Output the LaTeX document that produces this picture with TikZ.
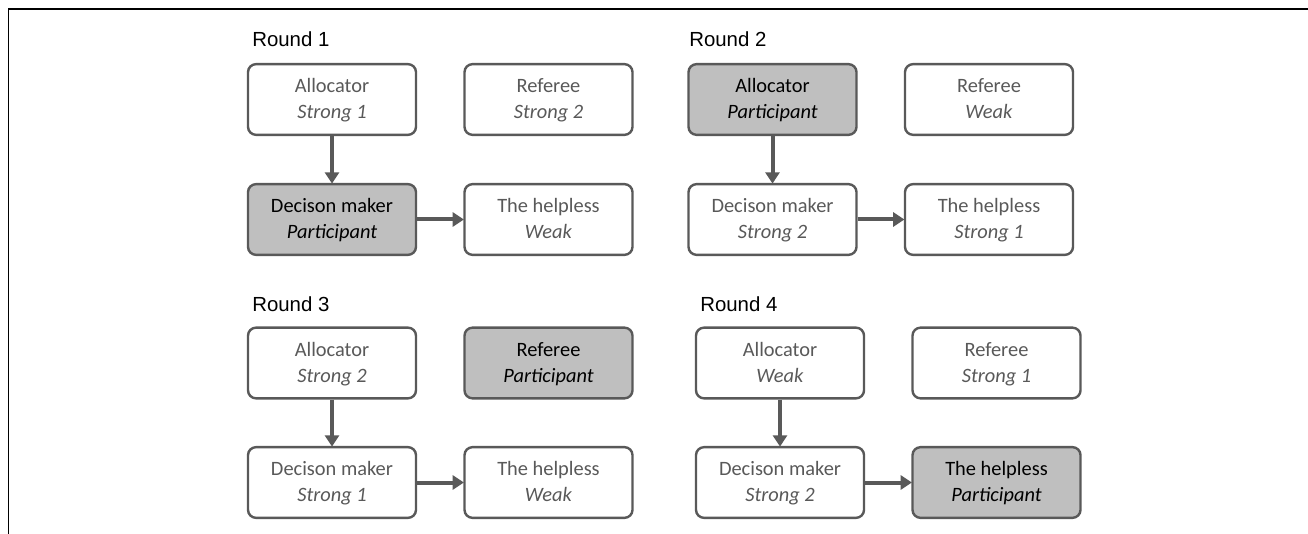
\documentclass[tikz,border=0pt]{standalone}
\usepackage{fontspec}
\setmainfont{Carlito}
\newfontfamily\arialf{Liberation Sans}
\usetikzlibrary{arrows.meta}
\definecolor{edgegray}{HTML}{595959}
\definecolor{txtgray}{HTML}{595959}
\definecolor{fillgray}{HTML}{BFBFBF}
\newcommand{\rolestrut}{\rule[-4.9pt]{0pt}{19.5pt}}
\newcommand{\rolelines}[2]{\rolestrut #1\\\rolestrut\textit{#2}}
\tikzset{
  rolebox/.style={draw=edgegray, line width=1.8pt, rounded corners=6pt, fill=white,
    minimum width=126pt, minimum height=53pt, inner sep=0pt, align=center,
    text=txtgray, font=\fontsize{15.3}{19.5}\selectfont},
  partbox/.style={rolebox, fill=fillgray, text=black},
  roundlabel/.style={anchor=base west, inner sep=0pt, font=\arialf\fontsize{15.3}{18}\selectfont, text=black},
  flow/.style={draw=edgegray, line width=3pt, -{Triangle[width=10.5pt,length=8.5pt]}, shorten >=-0.5pt},
  frameline/.style={draw=black, line width=1.1pt}
}
\begin{document}
\begin{tikzpicture}[x=0.75pt,y=-0.75pt]
\useasboundingbox (0,0) rectangle (1308,534);
\coordinate (fb) at (8.5,540);
\coordinate (fc) at (8.5,9);
\coordinate (fr) at (1315,9);
\draw[frameline] (fb) -- (fc) -- (fr);

% Round 1
\node[roundlabel] (r1) at (252,47) {Round 1};
\node[rolebox] (a1) at (332,99.5) {\rolelines{Allocator}{Strong 1}};
\node[rolebox] (f1) at (548.5,99.5) {\rolelines{Referee}{Strong 2}};
\node[partbox] (d1) at (332,219.5) {\rolelines{Decison maker}{Participant}};
\node[rolebox] (h1) at (548.5,219.5) {\rolelines{The helpless}{Weak}};
\draw[flow] (a1) -- (d1);
\draw[flow] (d1) -- (h1);

% Round 2
\node[roundlabel] (r2) at (689,47) {Round 2};
\node[partbox] (a2) at (772.5,99.5) {\rolelines{Allocator}{Participant}};
\node[rolebox] (f2) at (989,99.5) {\rolelines{Referee}{Weak}};
\node[rolebox] (d2) at (772.5,219.5) {\rolelines{Decison maker}{Strong 2}};
\node[rolebox] (h2) at (989,219.5) {\rolelines{The helpless}{Strong 1}};
\draw[flow] (a2) -- (d2);
\draw[flow] (d2) -- (h2);

% Round 3
\node[roundlabel] (r3) at (252,311) {Round 3};
\node[rolebox] (a3) at (332,363) {\rolelines{Allocator}{Strong 2}};
\node[partbox] (f3) at (548.5,363) {\rolelines{Referee}{Participant}};
\node[rolebox] (d3) at (332,482.5) {\rolelines{Decison maker}{Strong 1}};
\node[rolebox] (h3) at (548.5,482.5) {\rolelines{The helpless}{Weak}};
\draw[flow] (a3) -- (d3);
\draw[flow] (d3) -- (h3);

% Round 4
\node[roundlabel] (r4) at (700,311) {Round 4};
\node[rolebox] (a4) at (780,363) {\rolelines{Allocator}{Weak}};
\node[rolebox] (f4) at (996.5,363) {\rolelines{Referee}{Strong 1}};
\node[rolebox] (d4) at (780,482.5) {\rolelines{Decison maker}{Strong 2}};
\node[partbox] (h4) at (996.5,482.5) {\rolelines{The helpless}{Participant}};
\draw[flow] (a4) -- (d4);
\draw[flow] (d4) -- (h4);
\end{tikzpicture}
\end{document}
